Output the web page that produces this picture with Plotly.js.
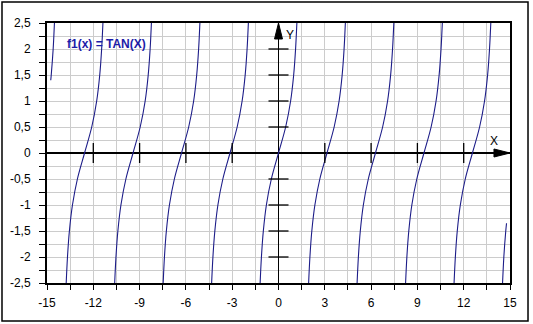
<!DOCTYPE html>
<html>
<head>
<meta charset="utf-8">
<script src="https://cdn.plot.ly/plotly-3.0.1.min.js"></script>
<style>html,body{margin:0;padding:0;background:#fff;}#chart{width:533px;height:324px;}</style>
</head>
<body>
<div id="chart"></div>
<script>
// tan(x) curve points (branches separated by null)
const tanX = [
  -14.757, -14.725, -14.601, -14.518, null,
  -13.756, -13.673, -13.549, -13.351, -13.030, -12.566, -12.102, -11.781, -11.583, -11.459, -11.376, null,
  -10.615, -10.532, -10.408, -10.210, -9.889, -9.425, -8.961, -8.640, -8.442, -8.318, -8.235, null,
  -7.473, -7.390, -7.266, -7.068, -6.747, -6.283, -5.819, -5.498, -5.300, -5.176, -5.093, null,
  -4.332, -4.249, -4.125, -3.927, -3.606, -3.142, -2.678, -2.357, -2.159, -2.035, -1.952, null,
  -1.190, -1.107, -0.983, -0.785, -0.464, 0, 0.464, 0.785, 0.983, 1.107, 1.190, null,
  1.952, 2.035, 2.159, 2.357, 2.678, 3.142, 3.606, 3.927, 4.125, 4.249, 4.332, null,
  5.093, 5.176, 5.300, 5.498, 5.819, 6.283, 6.747, 7.068, 7.266, 7.390, 7.473, null,
  8.235, 8.318, 8.442, 8.640, 8.961, 9.425, 9.889, 10.210, 10.408, 10.532, 10.615, null,
  11.376, 11.459, 11.583, 11.781, 12.102, 12.566, 13.030, 13.351, 13.549, 13.673, 13.756, null,
  14.518, 14.601, 14.725, 14.775
];
const tanY = [
  1.4, 1.5, 2, 2.5, null,
  -2.5, -2, -1.5, -1, -0.5, 0, 0.5, 1, 1.5, 2, 2.5, null,
  -2.5, -2, -1.5, -1, -0.5, 0, 0.5, 1, 1.5, 2, 2.5, null,
  -2.5, -2, -1.5, -1, -0.5, 0, 0.5, 1, 1.5, 2, 2.5, null,
  -2.5, -2, -1.5, -1, -0.5, 0, 0.5, 1, 1.5, 2, 2.5, null,
  -2.5, -2, -1.5, -1, -0.5, 0, 0.5, 1, 1.5, 2, 2.5, null,
  -2.5, -2, -1.5, -1, -0.5, 0, 0.5, 1, 1.5, 2, 2.5, null,
  -2.5, -2, -1.5, -1, -0.5, 0, 0.5, 1, 1.5, 2, 2.5, null,
  -2.5, -2, -1.5, -1, -0.5, 0, 0.5, 1, 1.5, 2, 2.5, null,
  -2.5, -2, -1.5, -1, -0.5, 0, 0.5, 1, 1.5, 2, 2.5, null,
  -2.5, -2, -1.5, -1.35
];

// axis ticks
const xTickVals = [-15,-13.5,-12,-10.5,-9,-7.5,-6,-4.5,-3,-1.5,0,1.5,3,4.5,6,7.5,9,10.5,12,13.5,15];
const xTickText = ["-15","","-12","","-9","","-6","","-3","","0","","3","","6","","9","","12","","15"];
const yTickVals = [-2.5,-2.25,-2,-1.75,-1.5,-1.25,-1,-0.75,-0.5,-0.25,0,0.25,0.5,0.75,1,1.25,1.5,1.75,2,2.25,2.5];
const yTickText = ["-2,5","","-2","","-1,5","","-1","","-0,5","","0","","0,5","","1","","1,5","","2","","2,5"];

// cross marks on the central axes
const xAxisMarks = [-12,-9,-6,-3,3,6,9,12];
const yAxisMarks = [-2,-1.5,-1,-0.5,0.5,1,1.5,2];

const legendLabel = "f1(x) = TAN(X)";

const FONT = "Liberation Sans, Arial, sans-serif";

const traces = [
  {
    x: tanX, y: tanY, type: 'scatter', mode: 'lines',
    line: {color: '#1c1c88', width: 1.1, shape: 'spline', smoothing: 1},
    connectgaps: false, hoverinfo: 'skip', showlegend: false
  },
  {
    x: xAxisMarks, y: xAxisMarks.map(() => 0), type: 'scatter', mode: 'markers',
    marker: {symbol: 'line-ns-open', size: 14.3, color: '#000', line: {color: '#000', width: 1.3}},
    hoverinfo: 'skip', showlegend: false, cliponaxis: false
  },
  {
    x: yAxisMarks.map(() => 0), y: yAxisMarks, type: 'scatter', mode: 'markers',
    marker: {symbol: 'line-ew-open', size: 14.3, color: '#000', line: {color: '#000', width: 1.3}},
    hoverinfo: 'skip', showlegend: false, cliponaxis: false
  }
];

const layout = {
  width: 533, height: 324,
  margin: {l: 47, r: 23, t: 23, b: 41, pad: 0},
  paper_bgcolor: '#fff', plot_bgcolor: '#fff',
  font: {family: FONT, size: 12, color: '#000'},
  showlegend: false,
  xaxis: {
    range: [-15, 15], fixedrange: true,
    tickmode: 'array', tickvals: xTickVals, ticktext: xTickText,
    ticks: 'outside', ticklen: 5, tickwidth: 1, tickcolor: '#000',
    ticklabelstandoff: 3,
    showgrid: true, gridcolor: '#cccccc', gridwidth: 1,
    zeroline: true, zerolinecolor: '#000', zerolinewidth: 1.5,
    showline: true, linecolor: '#000', linewidth: 2, mirror: true,
    tickfont: {family: FONT, size: 12, color: '#000'}
  },
  yaxis: {
    range: [-2.5, 2.5], fixedrange: true,
    tickmode: 'array', tickvals: yTickVals, ticktext: yTickText,
    ticks: 'outside', ticklen: 6, tickwidth: 1, tickcolor: '#000',
    ticklabelstandoff: 6,
    showgrid: true, gridcolor: '#cccccc', gridwidth: 1,
    zeroline: true, zerolinecolor: '#000', zerolinewidth: 1.5,
    showline: true, linecolor: '#000', linewidth: 2, mirror: true,
    tickfont: {family: FONT, size: 12, color: '#000'}
  },
  shapes: [
    // outer frame
    {type: 'rect', xref: 'paper', yref: 'paper', x0: -0.0972, x1: 1.0389, y0: -0.1462, y1: 1.0808,
     line: {color: '#000', width: 1.5}, fillcolor: 'rgba(0,0,0,0)', layer: 'below'},
    // Y arrow head
    {type: 'path', xref: 'paper', yref: 'paper',
     path: 'M0.5,1 L0.4914,0.9385 L0.5086,0.9385 Z', fillcolor: '#000', line: {color: '#000', width: 1}},
    // X arrow head
    {type: 'path', xref: 'paper', yref: 'paper',
     path: 'M1,0.5 L0.9654,0.5154 L0.9654,0.4846 Z', fillcolor: '#000', line: {color: '#000', width: 1}}
  ],
  annotations: [
    {text: '<b>' + legendLabel + '</b>', xref: 'paper', yref: 'paper', x: 0.0389, y: 0.921,
     xanchor: 'left', yanchor: 'middle', showarrow: false,
     font: {family: FONT, size: 12, color: '#1c1ca8'}},
    {text: 'Y', xref: 'paper', yref: 'paper', x: 0.5238, y: 0.9538, xanchor: 'center', yanchor: 'middle',
     showarrow: false, font: {family: FONT, size: 12, color: '#000'}},
    {text: 'X', xref: 'paper', yref: 'paper', x: 0.9654, y: 0.5462, xanchor: 'center', yanchor: 'middle',
     showarrow: false, font: {family: FONT, size: 12, color: '#000'}}
  ]
};

Plotly.newPlot('chart', traces, layout, {staticPlot: true, displayModeBar: false});
</script>
</body>
</html>
